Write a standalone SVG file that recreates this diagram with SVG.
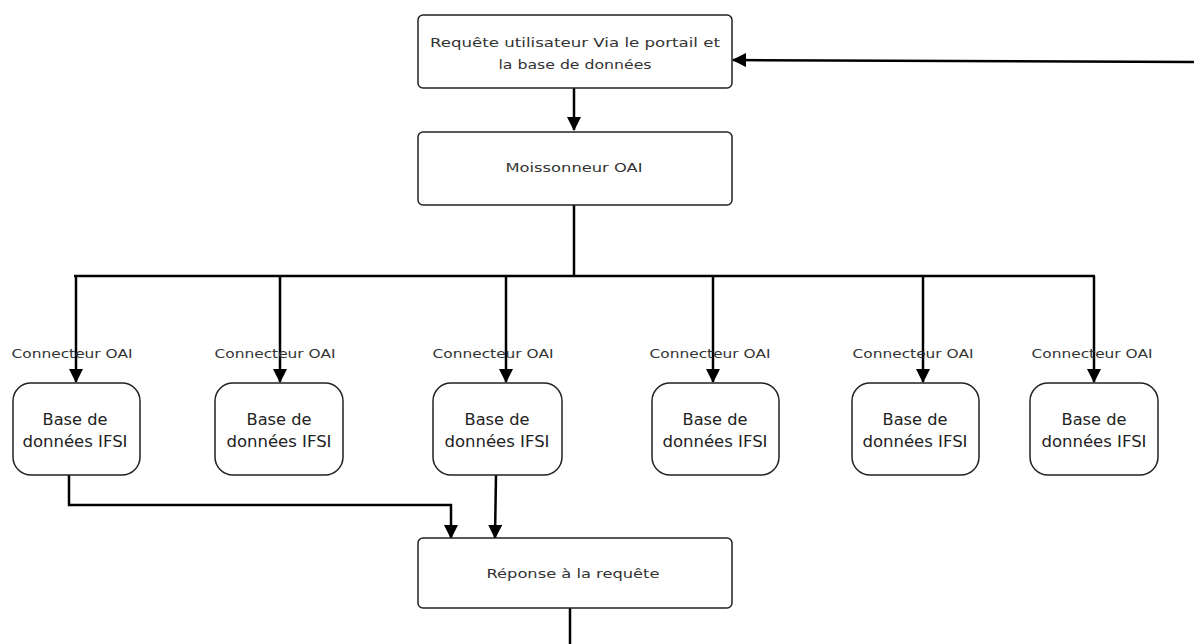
<svg xmlns="http://www.w3.org/2000/svg" width="1194" height="644" viewBox="0 0 1194 644">
<style>
.box{fill:#fff;stroke:#222;stroke-width:1.5}
.t{font-family:"DejaVu Sans","Liberation Sans",sans-serif;fill:#333;text-anchor:middle}
.s{font-size:12px}
.l{font-size:13px}
.m{font-size:15px;fill:#222}
.c{fill:none;stroke:#000;stroke-width:2.5}
</style>
<defs>
<marker id="ah" markerUnits="userSpaceOnUse" markerWidth="14" markerHeight="14" viewBox="0 0 14 14" refX="13" refY="7" orient="auto">
<path d="M0,0 L14,7 L0,14 Z" fill="#000"/>
</marker>
</defs>
<rect width="1194" height="644" fill="#fff"/>
<g id="connectors">
<path class="c" d="M1194,62 L733,60" marker-end="url(#ah)"/>
<path class="c" d="M574,88 L574,130" marker-end="url(#ah)"/>
<path class="c" d="M574,205 L574,276"/>
<path class="c" d="M74,276 L1095,276"/>
<path class="c" d="M76,276 L76,382" marker-end="url(#ah)"/>
<path class="c" d="M280,276 L280,382" marker-end="url(#ah)"/>
<path class="c" d="M506,276 L506,382" marker-end="url(#ah)"/>
<path class="c" d="M713,276 L713,382" marker-end="url(#ah)"/>
<path class="c" d="M923,276 L923,382" marker-end="url(#ah)"/>
<path class="c" d="M1094,276 L1094,382" marker-end="url(#ah)"/>
<path class="c" d="M69,475 L69,505 L451,505 L451,538" marker-end="url(#ah)"/>
<path class="c" d="M496,475 L495,538" marker-end="url(#ah)"/>
<path class="c" d="M570,608 L570,644"/>
</g>
<g id="requete">
<rect class="box" x="418" y="15" width="314" height="73" rx="5"/>
<text class="t l" x="575" y="47" textLength="290" lengthAdjust="spacingAndGlyphs">Requête utilisateur Via le portail et</text>
<text class="t l" x="575" y="69" textLength="153" lengthAdjust="spacingAndGlyphs">la base de données</text>
</g>
<g id="moissonneur">
<rect class="box" x="418" y="132" width="314" height="73" rx="5"/>
<text class="t l" x="574" y="172" textLength="137" lengthAdjust="spacingAndGlyphs">Moissonneur OAI</text>
</g>
<g id="labels">
<text class="t s" x="72" y="358" textLength="121" lengthAdjust="spacingAndGlyphs">Connecteur OAI</text>
<text class="t s" x="275" y="358" textLength="121" lengthAdjust="spacingAndGlyphs">Connecteur OAI</text>
<text class="t s" x="493" y="358" textLength="121" lengthAdjust="spacingAndGlyphs">Connecteur OAI</text>
<text class="t s" x="710" y="358" textLength="121" lengthAdjust="spacingAndGlyphs">Connecteur OAI</text>
<text class="t s" x="913" y="358" textLength="121" lengthAdjust="spacingAndGlyphs">Connecteur OAI</text>
<text class="t s" x="1092" y="358" textLength="121" lengthAdjust="spacingAndGlyphs">Connecteur OAI</text>
</g>
<g id="db1">
<rect class="box" x="13" y="383" width="127" height="92" rx="18"/>
<text class="t m" x="75" y="425" textLength="65" lengthAdjust="spacingAndGlyphs">Base de</text>
<text class="t m" x="75" y="447" textLength="105" lengthAdjust="spacingAndGlyphs">données IFSI</text>
</g>
<g id="db2">
<rect class="box" x="215" y="383" width="128" height="92" rx="18"/>
<text class="t m" x="279" y="425" textLength="65" lengthAdjust="spacingAndGlyphs">Base de</text>
<text class="t m" x="279" y="447" textLength="105" lengthAdjust="spacingAndGlyphs">données IFSI</text>
</g>
<g id="db3">
<rect class="box" x="433" y="383" width="129" height="92" rx="18"/>
<text class="t m" x="497" y="425" textLength="65" lengthAdjust="spacingAndGlyphs">Base de</text>
<text class="t m" x="497" y="447" textLength="105" lengthAdjust="spacingAndGlyphs">données IFSI</text>
</g>
<g id="db4">
<rect class="box" x="652" y="383" width="127" height="92" rx="18"/>
<text class="t m" x="715" y="425" textLength="65" lengthAdjust="spacingAndGlyphs">Base de</text>
<text class="t m" x="715" y="447" textLength="105" lengthAdjust="spacingAndGlyphs">données IFSI</text>
</g>
<g id="db5">
<rect class="box" x="852" y="383" width="127" height="92" rx="18"/>
<text class="t m" x="915" y="425" textLength="65" lengthAdjust="spacingAndGlyphs">Base de</text>
<text class="t m" x="915" y="447" textLength="105" lengthAdjust="spacingAndGlyphs">données IFSI</text>
</g>
<g id="db6">
<rect class="box" x="1030" y="383" width="128" height="92" rx="18"/>
<text class="t m" x="1094" y="425" textLength="65" lengthAdjust="spacingAndGlyphs">Base de</text>
<text class="t m" x="1094" y="447" textLength="105" lengthAdjust="spacingAndGlyphs">données IFSI</text>
</g>
<g id="reponse">
<rect class="box" x="418" y="538" width="314" height="70" rx="5"/>
<text class="t l" x="573" y="578" textLength="173" lengthAdjust="spacingAndGlyphs">Réponse à la requête</text>
</g>
</svg>
